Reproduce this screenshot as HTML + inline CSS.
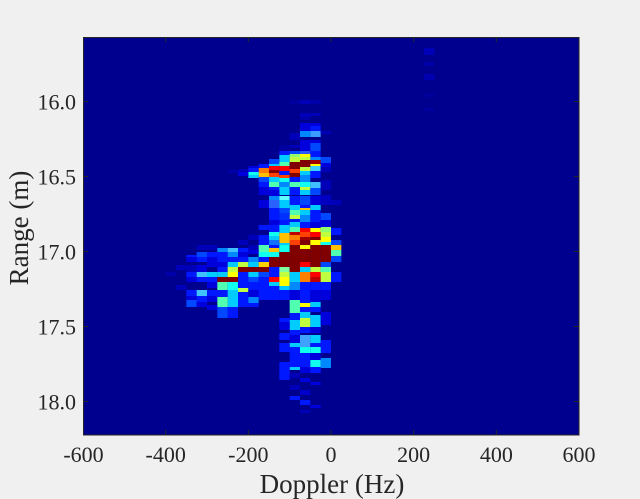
<!DOCTYPE html>
<html><head><meta charset="utf-8"><style>
html,body{margin:0;padding:0;background:#f0f0f0;}
svg{display:block;}
text{font-family:"Liberation Serif","Times New Roman",serif;fill:#262626;}
</style></head><body>
<svg width="640" height="499" viewBox="0 0 640 499" xmlns="http://www.w3.org/2000/svg">
<rect width="640" height="499" fill="#f0f0f0"/>
<defs><clipPath id="ax"><rect x="83" y="37" width="496" height="398"/></clipPath></defs>
<rect x="83" y="37" width="496" height="398" fill="#00008f"/>
<g clip-path="url(#ax)"><g transform="translate(83,0) scale(10.3333,1)">
<rect x="33" y="48" width="1" height="7" fill="#0000b8"/>
<rect x="33" y="62" width="1" height="4" fill="#0000a8"/>
<rect x="33" y="74" width="1" height="6" fill="#0000b0"/>
<rect x="33" y="94" width="1" height="3" fill="#00009f"/>
<rect x="33" y="108" width="1" height="3" fill="#00009f"/>
<rect x="20" y="100" width="1" height="4" fill="#00009f"/>
<rect x="21" y="100" width="1" height="4" fill="#0000b8"/>
<rect x="22" y="100" width="1" height="4" fill="#0000a8"/>
<rect x="21" y="113" width="1" height="4" fill="#0000b8"/>
<rect x="22" y="113" width="1" height="3" fill="#0000b8"/>
<rect x="21" y="117" width="1" height="3" fill="#0000a8"/>
<rect x="21" y="123" width="1" height="3" fill="#0000dd"/>
<rect x="22" y="123" width="1" height="3" fill="#0000dd"/>
<rect x="21" y="126" width="1" height="5" fill="#0000dd"/>
<rect x="22" y="126" width="1" height="5" fill="#0018ff"/>
<rect x="21" y="131" width="1" height="6" fill="#0088ff"/>
<rect x="22" y="131" width="1" height="6" fill="#3a9cff"/>
<rect x="23" y="131" width="1" height="3" fill="#0000b8"/>
<rect x="20" y="133" width="1" height="7" fill="#0000b8"/>
<rect x="21" y="140" width="1" height="3" fill="#0000dd"/>
<rect x="22" y="140" width="1" height="3" fill="#0000dd"/>
<rect x="21" y="143" width="1" height="8" fill="#0000dd"/>
<rect x="22" y="143" width="1" height="8" fill="#0048ff"/>
<rect x="20" y="145" width="1" height="3" fill="#0000b8"/>
<rect x="19" y="145" width="1" height="6" fill="#0000a0"/>
<rect x="19" y="151" width="1" height="4" fill="#0018ff"/>
<rect x="20" y="151" width="1" height="3" fill="#0048ff"/>
<rect x="21" y="151" width="1" height="3" fill="#2a5aff"/>
<rect x="22" y="151" width="1" height="6" fill="#0018ff"/>
<rect x="20" y="154" width="1" height="3" fill="#8fff70"/>
<rect x="21" y="154" width="1" height="3" fill="#ffff00"/>
<rect x="22" y="157" width="1" height="3" fill="#0088ff"/>
<rect x="19" y="155" width="1" height="7" fill="#00ccff"/>
<rect x="20" y="157" width="1" height="5" fill="#c0ff3f"/>
<rect x="21" y="157" width="1" height="3" fill="#c0ff3f"/>
<rect x="21" y="160" width="1" height="7" fill="#800000"/>
<rect x="22" y="160" width="1" height="4" fill="#a00000"/>
<rect x="22" y="164" width="1" height="2" fill="#ffff00"/>
<rect x="22" y="166" width="1" height="5" fill="#40d0ff"/>
<rect x="23" y="157" width="1" height="6" fill="#0048ff"/>
<rect x="23" y="163" width="1" height="4" fill="#0000dd"/>
<rect x="18" y="159" width="1" height="5" fill="#0048ff"/>
<rect x="18" y="164" width="1" height="2" fill="#00ccff"/>
<rect x="18" y="166" width="1" height="4" fill="#ff0000"/>
<rect x="18" y="170" width="1" height="3" fill="#800000"/>
<rect x="18" y="173" width="1" height="4" fill="#ff4000"/>
<rect x="18" y="177" width="1" height="3" fill="#00ccff"/>
<rect x="19" y="162" width="1" height="4" fill="#50ffaf"/>
<rect x="19" y="166" width="1" height="5" fill="#ff0000"/>
<rect x="19" y="171" width="1" height="4" fill="#0018ff"/>
<rect x="20" y="162" width="1" height="7" fill="#800000"/>
<rect x="20" y="169" width="1" height="4" fill="#ff4000"/>
<rect x="20" y="173" width="1" height="4" fill="#800000"/>
<rect x="21" y="167" width="1" height="4" fill="#c0ff3f"/>
<rect x="21" y="171" width="1" height="4" fill="#00ccff"/>
<rect x="17" y="164" width="1" height="4" fill="#0018ff"/>
<rect x="17" y="168" width="1" height="5" fill="#ff8000"/>
<rect x="17" y="173" width="1" height="4" fill="#ffc000"/>
<rect x="16" y="166" width="1" height="2" fill="#0000dd"/>
<rect x="16" y="168" width="1" height="4" fill="#0018ff"/>
<rect x="16" y="172" width="1" height="3" fill="#10ffef"/>
<rect x="16" y="175" width="1" height="3" fill="#00ccff"/>
<rect x="15" y="169" width="1" height="3" fill="#0000b8"/>
<rect x="15" y="172" width="1" height="4" fill="#0000dd"/>
<rect x="14" y="170" width="1" height="3" fill="#0000a8"/>
<rect x="17" y="177" width="1" height="5" fill="#0048ff"/>
<rect x="18" y="178" width="1" height="4" fill="#00ccff"/>
<rect x="19" y="175" width="1" height="3" fill="#ff4000"/>
<rect x="19" y="178" width="1" height="4" fill="#10ffef"/>
<rect x="20" y="177" width="1" height="5" fill="#0018ff"/>
<rect x="21" y="175" width="1" height="7" fill="#0088ff"/>
<rect x="22" y="171" width="1" height="7" fill="#0018ff"/>
<rect x="17" y="182" width="1" height="5" fill="#0018ff"/>
<rect x="18" y="182" width="1" height="5" fill="#50ffaf"/>
<rect x="19" y="182" width="1" height="5" fill="#0088ff"/>
<rect x="20" y="182" width="1" height="5" fill="#50ffaf"/>
<rect x="21" y="182" width="1" height="5" fill="#10ffef"/>
<rect x="22" y="182" width="1" height="6" fill="#40c0ff"/>
<rect x="18" y="187" width="1" height="3" fill="#0018ff"/>
<rect x="19" y="187" width="1" height="8" fill="#00ccff"/>
<rect x="20" y="187" width="1" height="8" fill="#0018ff"/>
<rect x="21" y="187" width="1" height="3" fill="#c0ff3f"/>
<rect x="21" y="190" width="1" height="5" fill="#00ccff"/>
<rect x="22" y="188" width="1" height="7" fill="#0048ff"/>
<rect x="17" y="187" width="1" height="8" fill="#0000dd"/>
<rect x="18" y="190" width="1" height="6" fill="#0000dd"/>
<rect x="18" y="196" width="1" height="4" fill="#0088ff"/>
<rect x="19" y="196" width="1" height="4" fill="#60ffff"/>
<rect x="20" y="196" width="1" height="9" fill="#0018ff"/>
<rect x="21" y="196" width="1" height="9" fill="#0048ff"/>
<rect x="22" y="196" width="1" height="9" fill="#0000dd"/>
<rect x="18" y="200" width="1" height="8" fill="#2a62ff"/>
<rect x="19" y="200" width="1" height="8" fill="#00ccff"/>
<rect x="17" y="200" width="1" height="8" fill="#0000dd"/>
<rect x="20" y="205" width="1" height="5" fill="#00ccff"/>
<rect x="21" y="205" width="1" height="3" fill="#0018ff"/>
<rect x="21" y="208" width="1" height="2" fill="#ffc000"/>
<rect x="21" y="210" width="1" height="5" fill="#00ccff"/>
<rect x="22" y="205" width="1" height="5" fill="#00ccff"/>
<rect x="22" y="210" width="1" height="5" fill="#0018ff"/>
<rect x="20" y="210" width="1" height="5" fill="#50ffaf"/>
<rect x="18" y="208" width="1" height="5" fill="#0018ff"/>
<rect x="19" y="208" width="1" height="5" fill="#0048ff"/>
<rect x="18" y="213" width="1" height="7" fill="#0018ff"/>
<rect x="19" y="213" width="1" height="7" fill="#0030ff"/>
<rect x="20" y="215" width="1" height="4" fill="#c0ff3f"/>
<rect x="20" y="219" width="1" height="3" fill="#0018ff"/>
<rect x="21" y="215" width="1" height="7" fill="#0088ff"/>
<rect x="22" y="215" width="1" height="7" fill="#0018ff"/>
<rect x="23" y="213" width="1" height="7" fill="#0048ff"/>
<rect x="18" y="220" width="1" height="5" fill="#0000dd"/>
<rect x="19" y="220" width="1" height="5" fill="#0018ff"/>
<rect x="20" y="222" width="1" height="5" fill="#00ccff"/>
<rect x="21" y="222" width="1" height="6" fill="#0018ff"/>
<rect x="22" y="222" width="1" height="6" fill="#0000dd"/>
<rect x="23" y="220" width="1" height="7" fill="#0000dd"/>
<rect x="23" y="167" width="1" height="5" fill="#0000b8"/>
<rect x="23" y="180" width="1" height="10" fill="#0000b8"/>
<rect x="23" y="195" width="1" height="10" fill="#0000c0"/>
<rect x="24" y="200" width="1" height="5" fill="#0000b8"/>
<rect x="17" y="225" width="1" height="5" fill="#0018ff"/>
<rect x="18" y="225" width="1" height="7" fill="#0018ff"/>
<rect x="19" y="225" width="1" height="8" fill="#00ccff"/>
<rect x="20" y="227" width="1" height="5" fill="#50ffaf"/>
<rect x="21" y="228" width="1" height="4" fill="#ff0000"/>
<rect x="22" y="228" width="1" height="4" fill="#ffff00"/>
<rect x="23" y="227" width="1" height="5" fill="#8fff70"/>
<rect x="24" y="228" width="1" height="7" fill="#0018ff"/>
<rect x="18" y="232" width="1" height="4" fill="#10ffef"/>
<rect x="18" y="236" width="1" height="4" fill="#00ccff"/>
<rect x="19" y="233" width="1" height="5" fill="#ffc000"/>
<rect x="20" y="232" width="1" height="3" fill="#c00000"/>
<rect x="20" y="235" width="1" height="2" fill="#ff8000"/>
<rect x="21" y="232" width="1" height="5" fill="#ff4000"/>
<rect x="22" y="232" width="1" height="5" fill="#ff0000"/>
<rect x="23" y="232" width="1" height="5" fill="#c0ff3f"/>
<rect x="17" y="235" width="1" height="5" fill="#0018ff"/>
<rect x="16" y="235" width="1" height="5" fill="#0000b8"/>
<rect x="15" y="240" width="1" height="5" fill="#0000b8"/>
<rect x="20" y="237" width="1" height="5" fill="#ff8000"/>
<rect x="21" y="237" width="1" height="5" fill="#a00000"/>
<rect x="22" y="237" width="1" height="5" fill="#800000"/>
<rect x="23" y="237" width="1" height="5" fill="#ffff00"/>
<rect x="19" y="238" width="1" height="5" fill="#ffc000"/>
<rect x="20" y="240" width="1" height="5" fill="#ff4000"/>
<rect x="21" y="240" width="1" height="5" fill="#800000"/>
<rect x="22" y="240" width="1" height="5" fill="#ffff00"/>
<rect x="23" y="242" width="1" height="3" fill="#10ffef"/>
<rect x="24" y="240" width="1" height="5" fill="#0048ff"/>
<rect x="17" y="240" width="1" height="5" fill="#0018ff"/>
<rect x="18" y="240" width="1" height="5" fill="#1070ff"/>
<rect x="19" y="243" width="1" height="2" fill="#00ccff"/>
<rect x="11" y="245" width="1" height="5" fill="#0000b8"/>
<rect x="12" y="245" width="1" height="5" fill="#0000b8"/>
<rect x="16" y="245" width="1" height="5" fill="#0000b8"/>
<rect x="17" y="245" width="1" height="7" fill="#50ffaf"/>
<rect x="18" y="245" width="1" height="3" fill="#0018ff"/>
<rect x="18" y="248" width="1" height="4" fill="#ffc000"/>
<rect x="19" y="245" width="1" height="7" fill="#10ffef"/>
<rect x="20" y="245" width="1" height="7" fill="#800000"/>
<rect x="21" y="245" width="1" height="4" fill="#ffff00"/>
<rect x="21" y="249" width="1" height="8" fill="#800000"/>
<rect x="22" y="245" width="1" height="12" fill="#800000"/>
<rect x="23" y="245" width="1" height="12" fill="#800000"/>
<rect x="24" y="245" width="1" height="5" fill="#ffc000"/>
<rect x="24" y="250" width="1" height="6" fill="#50ffaf"/>
<rect x="13" y="248" width="1" height="4" fill="#0088ff"/>
<rect x="14" y="248" width="1" height="4" fill="#40c0ff"/>
<rect x="15" y="248" width="1" height="4" fill="#0018ff"/>
<rect x="16" y="250" width="1" height="4" fill="#0000dd"/>
<rect x="11" y="252" width="1" height="5" fill="#0048ff"/>
<rect x="12" y="252" width="1" height="5" fill="#0018ff"/>
<rect x="13" y="252" width="1" height="5" fill="#0018ff"/>
<rect x="14" y="252" width="1" height="5" fill="#0088ff"/>
<rect x="15" y="252" width="1" height="5" fill="#0000dd"/>
<rect x="17" y="252" width="1" height="5" fill="#10ffef"/>
<rect x="18" y="252" width="1" height="5" fill="#10ffef"/>
<rect x="19" y="252" width="1" height="5" fill="#800000"/>
<rect x="20" y="252" width="1" height="5" fill="#800000"/>
<rect x="10" y="255" width="1" height="2" fill="#0018ff"/>
<rect x="10" y="257" width="1" height="5" fill="#0000dd"/>
<rect x="11" y="257" width="1" height="5" fill="#0018ff"/>
<rect x="12" y="257" width="1" height="5" fill="#0000dd"/>
<rect x="13" y="257" width="1" height="5" fill="#0018ff"/>
<rect x="14" y="257" width="1" height="5" fill="#0018ff"/>
<rect x="15" y="257" width="1" height="5" fill="#0018ff"/>
<rect x="16" y="257" width="1" height="5" fill="#0088ff"/>
<rect x="17" y="257" width="1" height="5" fill="#0018ff"/>
<rect x="18" y="257" width="1" height="10" fill="#800000"/>
<rect x="19" y="257" width="1" height="10" fill="#800000"/>
<rect x="20" y="257" width="1" height="10" fill="#800000"/>
<rect x="21" y="257" width="1" height="5" fill="#800000"/>
<rect x="22" y="257" width="1" height="5" fill="#800000"/>
<rect x="23" y="257" width="1" height="5" fill="#800000"/>
<rect x="24" y="256" width="1" height="6" fill="#0048ff"/>
<rect x="21" y="262" width="1" height="5" fill="#ff0000"/>
<rect x="22" y="262" width="1" height="5" fill="#800000"/>
<rect x="23" y="262" width="1" height="5" fill="#0048ff"/>
<rect x="12" y="262" width="1" height="5" fill="#0000dd"/>
<rect x="13" y="262" width="1" height="5" fill="#0000dd"/>
<rect x="14" y="262" width="1" height="5" fill="#00ccff"/>
<rect x="15" y="262" width="1" height="5" fill="#c0ff3f"/>
<rect x="16" y="262" width="1" height="5" fill="#00ccff"/>
<rect x="17" y="262" width="1" height="5" fill="#ffd000"/>
<rect x="9" y="265" width="1" height="5" fill="#0000b8"/>
<rect x="10" y="265" width="1" height="7" fill="#0000b8"/>
<rect x="11" y="265" width="1" height="7" fill="#0000dd"/>
<rect x="8" y="272" width="1" height="4" fill="#0000a8"/>
<rect x="13" y="267" width="1" height="5" fill="#0018ff"/>
<rect x="14" y="267" width="1" height="5" fill="#c0ff3f"/>
<rect x="15" y="267" width="1" height="5" fill="#800000"/>
<rect x="16" y="267" width="1" height="5" fill="#800000"/>
<rect x="17" y="267" width="1" height="5" fill="#800000"/>
<rect x="18" y="267" width="1" height="5" fill="#0018ff"/>
<rect x="19" y="267" width="1" height="5" fill="#80ffa0"/>
<rect x="20" y="267" width="1" height="5" fill="#800000"/>
<rect x="21" y="267" width="1" height="5" fill="#00ccff"/>
<rect x="22" y="267" width="1" height="5" fill="#c0ff3f"/>
<rect x="23" y="267" width="1" height="5" fill="#50ffaf"/>
<rect x="10" y="272" width="1" height="5" fill="#0018ff"/>
<rect x="11" y="272" width="1" height="5" fill="#40c0ff"/>
<rect x="12" y="272" width="1" height="5" fill="#00ccff"/>
<rect x="13" y="272" width="1" height="5" fill="#00ccff"/>
<rect x="14" y="272" width="1" height="5" fill="#ffff00"/>
<rect x="15" y="272" width="1" height="5" fill="#0018ff"/>
<rect x="16" y="272" width="1" height="5" fill="#00ccff"/>
<rect x="17" y="272" width="1" height="5" fill="#0048ff"/>
<rect x="18" y="272" width="1" height="5" fill="#0018ff"/>
<rect x="19" y="272" width="1" height="5" fill="#c0ff3f"/>
<rect x="20" y="272" width="1" height="5" fill="#00ccff"/>
<rect x="21" y="272" width="1" height="5" fill="#ff8000"/>
<rect x="22" y="272" width="1" height="5" fill="#ff0000"/>
<rect x="23" y="272" width="1" height="5" fill="#c0ff3f"/>
<rect x="24" y="272" width="1" height="10" fill="#0018ff"/>
<rect x="10" y="277" width="1" height="5" fill="#0000dd"/>
<rect x="11" y="277" width="1" height="5" fill="#0018ff"/>
<rect x="12" y="277" width="1" height="5" fill="#0018ff"/>
<rect x="13" y="277" width="1" height="5" fill="#800000"/>
<rect x="14" y="277" width="1" height="5" fill="#800000"/>
<rect x="15" y="277" width="1" height="5" fill="#0018ff"/>
<rect x="16" y="277" width="1" height="5" fill="#0048ff"/>
<rect x="17" y="277" width="1" height="5" fill="#0018ff"/>
<rect x="18" y="277" width="1" height="5" fill="#ff0000"/>
<rect x="19" y="277" width="1" height="5" fill="#ffff00"/>
<rect x="20" y="277" width="1" height="5" fill="#00ccff"/>
<rect x="21" y="277" width="1" height="5" fill="#ff8000"/>
<rect x="22" y="277" width="1" height="5" fill="#c00000"/>
<rect x="23" y="277" width="1" height="5" fill="#c0ff3f"/>
<rect x="9" y="285" width="1" height="5" fill="#0000b8"/>
<rect x="12" y="282" width="1" height="6" fill="#0000dd"/>
<rect x="13" y="282" width="1" height="8" fill="#50ffaf"/>
<rect x="14" y="282" width="1" height="8" fill="#10ffef"/>
<rect x="15" y="282" width="1" height="6" fill="#0018ff"/>
<rect x="15" y="288" width="1" height="4" fill="#c0ff3f"/>
<rect x="16" y="282" width="1" height="8" fill="#0018ff"/>
<rect x="17" y="282" width="1" height="8" fill="#0018ff"/>
<rect x="18" y="282" width="1" height="4" fill="#00ccff"/>
<rect x="18" y="286" width="1" height="4" fill="#0018ff"/>
<rect x="19" y="282" width="1" height="4" fill="#ffff00"/>
<rect x="19" y="286" width="1" height="4" fill="#00ccff"/>
<rect x="20" y="282" width="1" height="8" fill="#0088ff"/>
<rect x="21" y="282" width="1" height="8" fill="#0018ff"/>
<rect x="22" y="282" width="1" height="8" fill="#0018ff"/>
<rect x="23" y="282" width="1" height="8" fill="#0018ff"/>
<rect x="10" y="290" width="1" height="6" fill="#0018ff"/>
<rect x="11" y="290" width="1" height="6" fill="#40c0ff"/>
<rect x="12" y="290" width="1" height="6" fill="#0018ff"/>
<rect x="13" y="290" width="1" height="7" fill="#0018ff"/>
<rect x="14" y="290" width="1" height="17" fill="#00ccff"/>
<rect x="15" y="292" width="1" height="10" fill="#0018ff"/>
<rect x="16" y="290" width="1" height="7" fill="#0000dd"/>
<rect x="16" y="297" width="1" height="6" fill="#0088ff"/>
<rect x="17" y="290" width="1" height="10" fill="#0018ff"/>
<rect x="18" y="290" width="1" height="10" fill="#0018ff"/>
<rect x="19" y="290" width="1" height="10" fill="#0018ff"/>
<rect x="20" y="290" width="1" height="10" fill="#0000dd"/>
<rect x="21" y="290" width="1" height="13" fill="#0018ff"/>
<rect x="22" y="290" width="1" height="12" fill="#0000dd"/>
<rect x="23" y="290" width="1" height="10" fill="#0000dd"/>
<rect x="10" y="296" width="1" height="4" fill="#0000dd"/>
<rect x="11" y="296" width="1" height="6" fill="#0018ff"/>
<rect x="12" y="296" width="1" height="6" fill="#0000dd"/>
<rect x="13" y="297" width="1" height="10" fill="#50ffaf"/>
<rect x="10" y="300" width="1" height="7" fill="#0048ff"/>
<rect x="15" y="302" width="1" height="5" fill="#0018ff"/>
<rect x="16" y="303" width="1" height="4" fill="#0018ff"/>
<rect x="20" y="300" width="1" height="10" fill="#50ffaf"/>
<rect x="21" y="303" width="1" height="4" fill="#ffff00"/>
<rect x="22" y="302" width="1" height="5" fill="#00ccff"/>
<rect x="21" y="307" width="1" height="5" fill="#0018ff"/>
<rect x="22" y="307" width="1" height="5" fill="#0018ff"/>
<rect x="20" y="310" width="1" height="3" fill="#50ffaf"/>
<rect x="13" y="307" width="1" height="11" fill="#0048ff"/>
<rect x="14" y="307" width="1" height="11" fill="#0018ff"/>
<rect x="12" y="305" width="1" height="5" fill="#0000dd"/>
<rect x="11" y="302" width="1" height="5" fill="#0000dd"/>
<rect x="19" y="318" width="1" height="4" fill="#0018ff"/>
<rect x="20" y="313" width="1" height="7" fill="#0018ff"/>
<rect x="20" y="320" width="1" height="10" fill="#00ccff"/>
<rect x="21" y="312" width="1" height="6" fill="#00ccff"/>
<rect x="21" y="318" width="1" height="9" fill="#c0ff3f"/>
<rect x="22" y="315" width="1" height="12" fill="#00ccff"/>
<rect x="23" y="312" width="1" height="13" fill="#0000dd"/>
<rect x="19" y="322" width="1" height="8" fill="#0000dd"/>
<rect x="21" y="327" width="1" height="6" fill="#0018ff"/>
<rect x="22" y="327" width="1" height="6" fill="#0000dd"/>
<rect x="20" y="330" width="1" height="5" fill="#0018ff"/>
<rect x="19" y="333" width="1" height="7" fill="#0018ff"/>
<rect x="21" y="335" width="1" height="12" fill="#40a0ff"/>
<rect x="22" y="335" width="1" height="8" fill="#00ccff"/>
<rect x="20" y="335" width="1" height="8" fill="#0000dd"/>
<rect x="23" y="340" width="1" height="13" fill="#0018ff"/>
<rect x="22" y="343" width="1" height="4" fill="#0018ff"/>
<rect x="20" y="343" width="1" height="4" fill="#00ccff"/>
<rect x="19" y="343" width="1" height="9" fill="#0018ff"/>
<rect x="21" y="347" width="1" height="6" fill="#10ffef"/>
<rect x="22" y="347" width="1" height="6" fill="#10ffef"/>
<rect x="20" y="347" width="1" height="20" fill="#0018ff"/>
<rect x="21" y="353" width="1" height="14" fill="#0018ff"/>
<rect x="22" y="353" width="1" height="7" fill="#0000dd"/>
<rect x="22" y="360" width="1" height="7" fill="#10ffef"/>
<rect x="23" y="358" width="1" height="10" fill="#0088ff"/>
<rect x="19" y="362" width="1" height="5" fill="#0018ff"/>
<rect x="20" y="367" width="1" height="3" fill="#00ccff"/>
<rect x="19" y="367" width="1" height="6" fill="#0018ff"/>
<rect x="21" y="367" width="1" height="6" fill="#0000dd"/>
<rect x="22" y="367" width="1" height="6" fill="#0018ff"/>
<rect x="19" y="373" width="1" height="7" fill="#0018ff"/>
<rect x="20" y="373" width="1" height="5" fill="#0000b8"/>
<rect x="21" y="378" width="1" height="4" fill="#0000dd"/>
<rect x="22" y="382" width="1" height="3" fill="#0000dd"/>
<rect x="20" y="385" width="1" height="5" fill="#0000b8"/>
<rect x="21" y="390" width="1" height="5" fill="#0000c8"/>
<rect x="20" y="396" width="1" height="4" fill="#0018ff"/>
<rect x="21" y="400" width="1" height="5" fill="#0018ff"/>
<rect x="22" y="405" width="1" height="3" fill="#0000dd"/>
<rect x="21" y="410" width="1" height="3" fill="#0000b8"/>
</g></g>
<rect x="83.5" y="37.5" width="495.5" height="397.5" fill="none" stroke="#262626" stroke-width="1"/>
<g stroke="#262626" stroke-width="1">
<line x1="83.5" y1="435" x2="83.5" y2="430"/>
<line x1="165.67" y1="435" x2="165.67" y2="430"/>
<line x1="248.33" y1="435" x2="248.33" y2="430"/>
<line x1="331" y1="435" x2="331" y2="430"/>
<line x1="413.67" y1="435" x2="413.67" y2="430"/>
<line x1="496.33" y1="435" x2="496.33" y2="430"/>
<line x1="165.67" y1="37" x2="165.67" y2="42"/>
<line x1="248.33" y1="37" x2="248.33" y2="42"/>
<line x1="331" y1="37" x2="331" y2="42"/>
<line x1="413.67" y1="37" x2="413.67" y2="42"/>
<line x1="496.33" y1="37" x2="496.33" y2="42"/>
<line x1="83" y1="101.5" x2="88" y2="101.5"/>
<line x1="83" y1="176.5" x2="88" y2="176.5"/>
<line x1="83" y1="251.5" x2="88" y2="251.5"/>
<line x1="83" y1="326.5" x2="88" y2="326.5"/>
<line x1="83" y1="401.5" x2="88" y2="401.5"/>
<line x1="579" y1="101.5" x2="574" y2="101.5"/>
<line x1="579" y1="176.5" x2="574" y2="176.5"/>
<line x1="579" y1="251.5" x2="574" y2="251.5"/>
<line x1="579" y1="326.5" x2="574" y2="326.5"/>
<line x1="579" y1="401.5" x2="574" y2="401.5"/>
</g>
<g font-size="22" text-anchor="end">
<text x="76" y="109.5">16.0</text>
<text x="76" y="184.5">16.5</text>
<text x="76" y="259.5">17.0</text>
<text x="76" y="334.5">17.5</text>
<text x="76" y="409.5">18.0</text>
</g>
<g font-size="22" text-anchor="middle">
<text x="83.5" y="462">-600</text>
<text x="165.67" y="462">-400</text>
<text x="248.33" y="462">-200</text>
<text x="331" y="462">0</text>
<text x="413.67" y="462">200</text>
<text x="496.33" y="462">400</text>
<text x="579" y="462">600</text>
</g>
<text x="332" y="493" font-size="27" text-anchor="middle">Doppler (Hz)</text>
<text transform="translate(28,228) rotate(-90)" font-size="27" text-anchor="middle">Range (m)</text>
</svg>
</body></html>
